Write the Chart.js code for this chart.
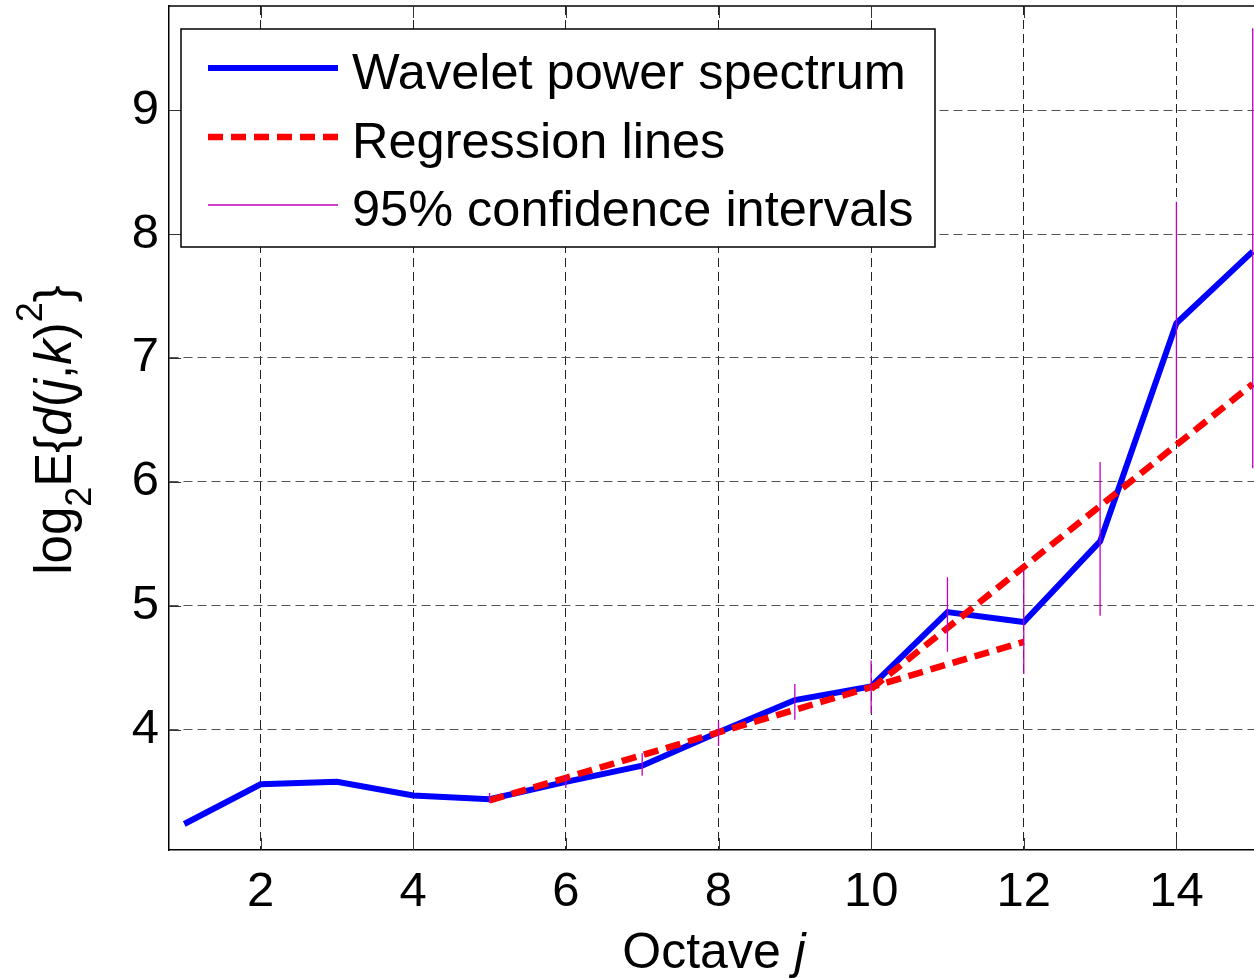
<!DOCTYPE html>
<html><head><meta charset="utf-8">
<script src="https://cdn.jsdelivr.net/npm/chart.js@4"></script>
<style>
html,body{margin:0;padding:0;overflow:hidden;background:#fff;width:1254px;height:979px}
#wrap{position:absolute;left:0;top:0;width:1272px;height:979px}
</style></head>
<body><div id="wrap"><canvas id="c" width="1272" height="979"></canvas></div>
<script>
// ---- data ----
const octaves = [1,2,3,4,5,6,7,8,9,10,11,12,13,14,15];
const power   = [3.24,3.56,3.58,3.47,3.44,3.58,3.71,3.98,4.24,4.35,4.95,4.87,5.52,7.28,7.86];
const reg1X = [5, 12];
const reg1Y = [3.43, 4.71];
const reg2X = [10, 15];
const reg2Y = [4.33, 6.79];
const ciOctaves = [5,6,7,8,9,10,11,12,13,14,15];
const ciLow  = [3.41,3.53,3.63,3.87,4.08,4.13,4.63,4.45,4.92,6.35,6.11];
const ciHigh = [3.49,3.63,3.81,4.07,4.37,4.56,5.23,5.29,6.16,8.26,9.66];
const xTicks = [2,4,6,8,10,12,14];
const yTicks = [4,5,6,7,8,9];
const legendLabels = ['Wavelet power spectrum','Regression lines','95% confidence intervals'];

const FONT = '"Liberation Sans", Arial, Helvetica, sans-serif';
const BLUE = '#0000ff', RED = '#ff0000', PURPLE = '#bf00bf';

const ciData = [];
ciOctaves.forEach((x, i) => {
  ciData.push({x: x, y: ciLow[i]});
  ciData.push({x: x, y: ciHigh[i]});
  ciData.push({x: x, y: null});
});

function richText(ctx, segs, x, y) {
  let cx = x;
  segs.forEach(s => {
    ctx.font = (s.italic ? 'italic ' : '') + s.size + 'px ' + FONT;
    ctx.fillText(s.t, cx, y + (s.shift || 0));
    cx += ctx.measureText(s.t).width;
  });
  return cx - x;
}
function richWidth(ctx, segs) {
  let w = 0;
  segs.forEach(s => { ctx.font = (s.italic ? 'italic ' : '') + s.size + 'px ' + FONT; w += ctx.measureText(s.t).width; });
  return w;
}

const decor = {
  id: 'decor',
  afterDraw(chart) {
    const ctx = chart.ctx, a = chart.chartArea;
    const xs = chart.scales.x, ys = chart.scales.y;
    ctx.save();
    // top border
    ctx.strokeStyle = '#000'; ctx.lineWidth = 1.5;
    ctx.beginPath(); ctx.moveTo(a.left, a.top); ctx.lineTo(a.right, a.top); ctx.stroke();
    // inward ticks
    ctx.lineWidth = 1; ctx.strokeStyle = '#333';
    ctx.beginPath();
    xTicks.forEach(v => {
      const px = Math.round(xs.getPixelForValue(v)) + 0.5;
      ctx.moveTo(px, a.bottom); ctx.lineTo(px, a.bottom - 12);
      ctx.moveTo(px, a.top); ctx.lineTo(px, a.top + 12);
    });
    yTicks.forEach(v => {
      const py = Math.round(ys.getPixelForValue(v)) + 0.5;
      ctx.moveTo(a.left, py); ctx.lineTo(a.left + 12, py);
    });
    ctx.stroke();

    // legend
    const L = 181, T = 29, R = 935, B = 247;
    ctx.fillStyle = '#fff';
    ctx.fillRect(L, T, R - L, B - T);
    ctx.strokeStyle = '#000'; ctx.lineWidth = 1.5;
    ctx.strokeRect(L, T, R - L, B - T);
    const rows = [68, 137, 205];
    const ds = [chart.data.datasets[0], chart.data.datasets[1], chart.data.datasets[3]];
    rows.forEach((ry, i) => {
      const d = ds[i];
      ctx.strokeStyle = d.borderColor; ctx.lineWidth = d.borderWidth;
      ctx.setLineDash(d.borderDash || []);
      ctx.beginPath(); ctx.moveTo(208, ry); ctx.lineTo(338, ry); ctx.stroke();
      ctx.setLineDash([]);
      ctx.fillStyle = '#000';
      ctx.font = '50.5px ' + FONT;
      ctx.textBaseline = 'alphabetic'; ctx.textAlign = 'left';
      ctx.fillText(legendLabels[i], 352, ry + 21);
    });

    // x title
    ctx.fillStyle = '#000';
    ctx.textBaseline = 'alphabetic'; ctx.textAlign = 'left';
    const xseg = [{t:'Octave ', size:50}, {t:'j', size:50, italic:true}];
    const xw = richWidth(ctx, xseg);
    richText(ctx, xseg, 714 - xw / 2, 968);

    // y title (rotated)
    const yseg = [
      {t:'log', size:51}, {t:'2', size:36, shift:20},
      {t:'E{', size:51}, {t:'d', size:51, italic:true}, {t:'(', size:51},
      {t:'j', size:51, italic:true}, {t:',', size:51}, {t:'k', size:51, italic:true},
      {t:')', size:51}, {t:'2', size:36, shift:-29}, {t:'}', size:51}
    ];
    const yw = richWidth(ctx, yseg);
    const cy = (a.top + a.bottom) / 2 + 2;
    ctx.translate(71, cy + yw / 2);
    ctx.rotate(-Math.PI / 2);
    richText(ctx, yseg, 0, 0);
    ctx.restore();
  }
};

new Chart(document.getElementById('c'), {
  type: 'line',
  data: {
    datasets: [
      {label: legendLabels[0], data: octaves.map((x, i) => ({x: x, y: power[i]})),
       borderColor: BLUE, borderWidth: 6, pointRadius: 0, fill: false, tension: 0, order: 3},
      {label: legendLabels[1], data: reg1X.map((x, i) => ({x: x, y: reg1Y[i]})),
       borderColor: RED, borderWidth: 6.5, borderDash: [15, 8], pointRadius: 0, fill: false, order: 2},
      {label: legendLabels[1], data: reg2X.map((x, i) => ({x: x, y: reg2Y[i]})),
       borderColor: RED, borderWidth: 6.5, borderDash: [15, 8], pointRadius: 0, fill: false, order: 2},
      {label: legendLabels[2], data: ciData,
       borderColor: PURPLE, borderWidth: 1.3, pointRadius: 0, fill: false, spanGaps: false, order: 1}
    ]
  },
  options: {
    responsive: false,
    animation: false,
    devicePixelRatio: 1,
    layout: {padding: {top: 6, right: 4, left: 0, bottom: 0}},
    plugins: {legend: {display: false}, tooltip: {enabled: false}, title: {display: false}},
    scales: {
      x: {
        type: 'linear', min: 0.8, max: 15.2,
        afterBuildTicks: s => { s.ticks = xTicks.map(v => ({value: v})); },
        afterFit: s => { s.height = 129; s.paddingLeft = 0; s.paddingRight = 0; },
        grid: {color: '#222', lineWidth: 1, drawTicks: false},
        border: {display: true, color: '#000', width: 1.5, dash: [9, 5]},
        ticks: {color: '#000', font: {family: FONT, size: 49}, padding: 13, maxRotation: 0, autoSkip: false}
      },
      y: {
        type: 'linear', min: 3.03, max: 9.84,
        afterBuildTicks: s => { s.ticks = yTicks.map(v => ({value: v})); },
        afterFit: s => { s.width = 169; s.paddingTop = 0; s.paddingBottom = 0; },
        grid: {color: '#555', lineWidth: 1, drawTicks: false},
        border: {display: true, color: '#000', width: 1.5, dash: [9, 5]},
        ticks: {color: '#000', font: {family: FONT, size: 49}, padding: 10}
      }
    }
  },
  plugins: [decor]
});
</script>
</body></html>
